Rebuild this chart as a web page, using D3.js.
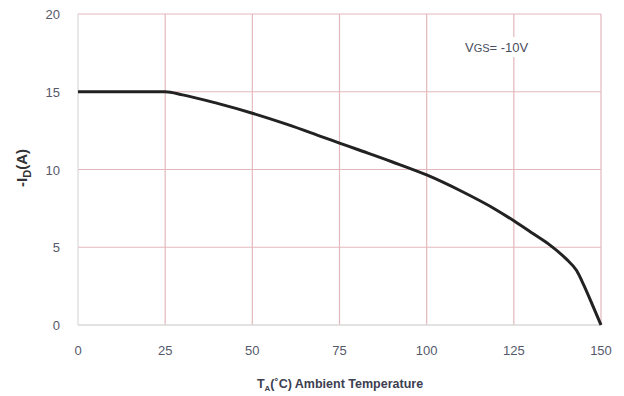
<!DOCTYPE html>
<html>
<head>
    <meta charset="utf-8" />
    <script src="https://d3js.org/d3.v7.min.js"></script>
    <style>
        body { margin: 0; background: #fff; }
        text { font-family: "Liberation Sans", Arial, sans-serif; }
    </style>
</head>
<body>
    <div class="chart"></div>
    <script>
        // temperature (C) and drain current (A)
        var temps = [0, 25, 30, 40, 50, 60, 70, 75, 80, 90, 100, 110, 120, 125, 130, 135, 140, 143, 145, 148, 150];
        var current = [15, 15, 14.8, 14.25, 13.62, 12.9, 12.1, 11.7, 11.3, 10.5, 9.65, 8.6, 7.4, 6.7, 5.95, 5.2, 4.25, 3.5, 2.6, 1.05, 0];
        var xTicks = [0, 25, 50, 75, 100, 125, 150];
        var yTicks = [0, 5, 10, 15, 20];

        const w = 624, h = 396;
        const plotL = 78, plotR = 601, plotT = 14, plotB = 325;

        let svg = d3.select('.chart').append('svg')
            .attr('width', w)
            .attr('height', h);

        let x = d3.scaleLinear().domain([0, 150]).range([plotL, plotR]);
        let y = d3.scaleLinear().domain([0, 20]).range([plotB, plotT]);

        // grid
        svg.selectAll('.vgrid')
            .data(xTicks.slice(1))
            .enter()
            .append('line')
            .attr('x1', d => x(d)).attr('x2', d => x(d))
            .attr('y1', plotT).attr('y2', plotB)
            .attr('stroke', '#e3b8bc')
            .attr('stroke-width', 1.2);

        svg.selectAll('.hgrid')
            .data(yTicks.slice(1))
            .enter()
            .append('line')
            .attr('x1', plotL).attr('x2', plotR)
            .attr('y1', d => y(d)).attr('y2', d => y(d))
            .attr('stroke', '#e3b8bc')
            .attr('stroke-width', 1.2);

        // left and bottom axes lines (grey)
        svg.append('line')
            .attr('x1', plotL).attr('x2', plotL).attr('y1', plotT).attr('y2', plotB)
            .attr('stroke', '#d9d9d9').attr('stroke-width', 1.2);
        svg.append('line')
            .attr('x1', plotL).attr('x2', plotR).attr('y1', plotB).attr('y2', plotB)
            .attr('stroke', '#d9d9d9').attr('stroke-width', 1.5);

        // tick labels
        svg.selectAll('.xlab')
            .data(xTicks)
            .enter()
            .append('text')
            .attr('x', d => x(d))
            .attr('y', 355)
            .attr('text-anchor', 'middle')
            .attr('font-size', 13)
            .attr('fill', '#55596a')
            .text(d => d);

        svg.selectAll('.ylab')
            .data(yTicks)
            .enter()
            .append('text')
            .attr('x', 60)
            .attr('y', d => y(d) + 5)
            .attr('text-anchor', 'end')
            .attr('font-size', 13)
            .attr('fill', '#55596a')
            .text(d => d);

        // curve
        let line = d3.line()
            .x((d, i) => x(temps[i]))
            .y(d => y(d))
            .curve(d3.curveMonotoneX);

        svg.append('path')
            .datum(current)
            .attr('d', line)
            .attr('fill', 'none')
            .attr('stroke', '#222')
            .attr('stroke-width', 3);

        // annotation with white box
        svg.append('rect')
            .attr('x', 463).attr('y', 37).attr('width', 90).attr('height', 20)
            .attr('fill', '#fff');
        let ann = svg.append('text')
            .attr('x', 465).attr('y', 52)
            .attr('font-size', 13)
            .attr('fill', '#4a4e5e');
        ann.append('tspan').text('V');
        ann.append('tspan').attr('font-size', 11).text('GS');
        ann.append('tspan').text('=  -10V');

        // y title
        let yt = svg.append('text')
            .attr('transform', 'translate(27,168) rotate(-90)')
            .attr('text-anchor', 'middle')
            .attr('font-size', 15)
            .attr('fill', '#333')
            .attr('font-weight', 'bold');
        yt.append('tspan').text('-I');
        yt.append('tspan').attr('font-size', 11).attr('dy', 4).text('D');
        yt.append('tspan').attr('dy', -4).text('(A)');

        // x title
        let xt = svg.append('text')
            .attr('x', 340).attr('y', 388)
            .attr('text-anchor', 'middle')
            .attr('font-size', 12.5)
            .attr('font-weight', 'bold')
            .attr('fill', '#3c4050');
        xt.append('tspan').text('T');
        xt.append('tspan').attr('font-size', 8).attr('dy', 3).text('A');
        xt.append('tspan').attr('dy', -3).text('(\u02daC) Ambient Temperature');
    </script>
</body>
</html>
